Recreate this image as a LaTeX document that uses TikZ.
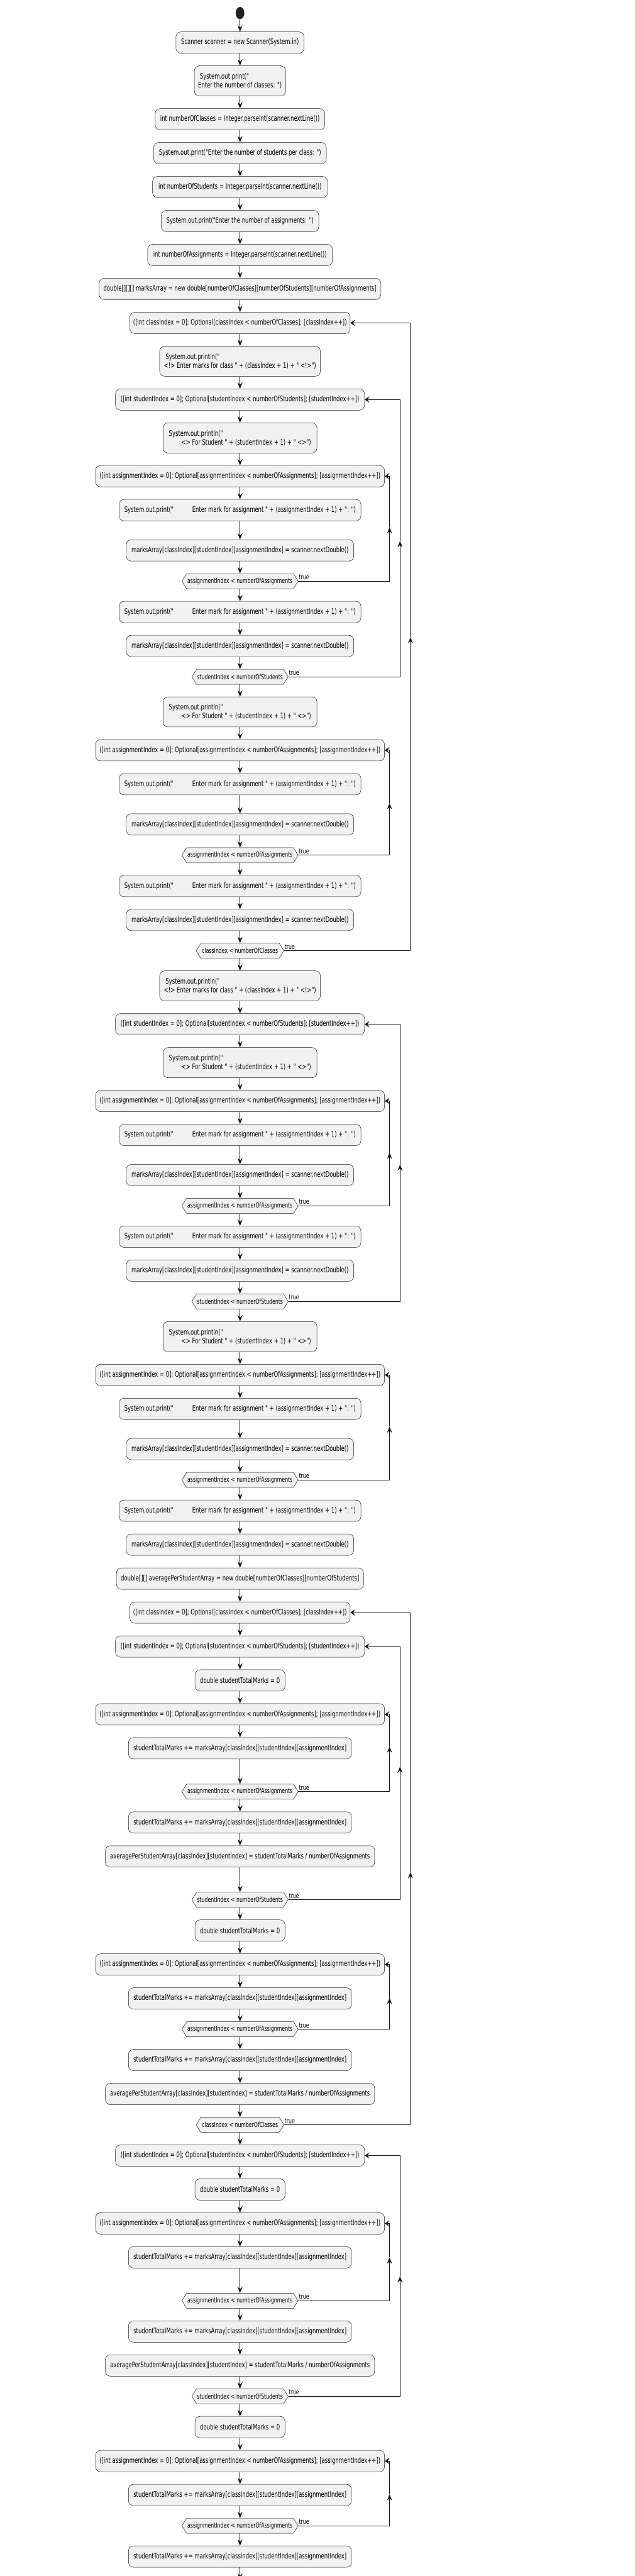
\documentclass[tikz,border=0pt]{standalone}
\usepackage{fontspec}
\newfontfamily\pumlfont{DejaVu Sans}[FakeStretch=0.707]
\usetikzlibrary{arrows.meta,shapes.geometric}
\definecolor{boxfill}{HTML}{F1F1F1}
\definecolor{boxline}{HTML}{181818}
\definecolor{lnk}{HTML}{181818}
\definecolor{dotc}{HTML}{222222}
\newcommand\hexshape[2]{\filldraw[hexsty] ({382-#2/2},#1) -- ({382-#2/2+7.5},{#1-12}) -- ({382+#2/2-7.5},{#1-12}) -- ({382+#2/2},#1) -- ({382+#2/2-7.5},{#1+12}) -- ({382-#2/2+7.5},{#1+12}) -- cycle;}
\newcommand\mkLC[2]{\node[actbox,minimum width=350.7pt] (#1) at (382,#2) {([int classIndex = 0]; Optional[classIndex < numberOfClasses]; [classIndex++])};}
\newcommand\mkPC[2]{\node[actbox2,minimum width=255.7pt] (#1) at (382,#2) {\hspace*{2.7pt}System.out.println("\\<!> Enter marks for class " + (classIndex + 1) + " <!>")};}
\newcommand\mkLS[2]{\node[actbox,minimum width=396.3pt] (#1) at (382,#2) {([int studentIndex = 0]; Optional[studentIndex < numberOfStudents]; [studentIndex++])};}
\newcommand\mkPS[2]{\node[actbox2,minimum width=245pt] (#1) at (382,#2) {System.out.println("\\\hspace*{20pt}<> For Student " + (studentIndex + 1) + " <>")};}
\newcommand\mkLA[2]{\node[actbox,minimum width=460pt] (#1) at (382,#2) {([int assignmentIndex = 0]; Optional[assignmentIndex < numberOfAssignments]; [assignmentIndex++])};}
\newcommand\mkPM[2]{\node[actbox,minimum width=385pt] (#1) at (382,#2) {System.out.print("\hspace*{30pt}Enter mark for assignment " + (assignmentIndex + 1) + ": ")};}
\newcommand\mkMK[2]{\node[actbox,minimum width=362pt] (#1) at (382,#2) {marksArray[classIndex][studentIndex][assignmentIndex] = scanner.nextDouble()};}
\newcommand\mkHA[2]{\hexshape{#2}{185}\node[hextxt,minimum width=185pt] (#1) at (382,#2) {assignmentIndex < numberOfAssignments};}
\newcommand\mkHS[2]{\hexshape{#2}{153.3}\node[hextxt,minimum width=153.3pt] (#1) at (382,#2) {studentIndex < numberOfStudents};}
\newcommand\mkHC[2]{\hexshape{#2}{139.7}\node[hextxt,minimum width=139.7pt] (#1) at (382,#2) {classIndex < numberOfClasses};}
\newcommand\mkDS[2]{\node[actbox,minimum width=143.3pt] (#1) at (382,#2) {double studentTotalMarks = 0};}
\newcommand\mkST[2]{\node[actbox,minimum width=355pt] (#1) at (382,#2) {studentTotalMarks += marksArray[classIndex][studentIndex][assignmentIndex]};}
\newcommand\mkAV[2]{\node[actbox,minimum width=428.7pt] (#1) at (382,#2) {averagePerStudentArray[classIndex][studentIndex] = studentTotalMarks / numberOfAssignments};}
\newcommand\loopback[4]{%
  \path (#1.east -| #3) coordinate (#1r);
  \path (#3) ++(0,#4) coordinate (#1m);
  \path (#2.east -| #3) coordinate (#1t);
  \node[truelbl] (#1lbl) at (#1.east) {true};
  \draw[flow,->] (#1.east) -- (#1r) -- (#1m);
  \draw[flow,-{Stealth[length=7.5pt,width=10pt,inset=3pt]}] (#1m) -- (#1t) -- (#2.east);
}
\begin{document}
\begin{tikzpicture}[x=1pt,y=-1pt,
  actbox/.style={draw=boxline,line width=0.5pt,fill=boxfill,rounded corners=8pt,inner xsep=2pt,inner ysep=0pt,minimum height=34pt,align=left,font=\pumlfont\fontsize{12}{14}\selectfont,text=black},
  actbox2/.style={actbox,minimum height=48pt},
  hexsty/.style={draw=boxline,line width=0.5pt,fill=boxfill},
  hextxt/.style={inner sep=0pt,minimum height=24pt,font=\pumlfont\fontsize{11}{13}\selectfont},
  flow/.style={draw=lnk,line width=1pt,>={Stealth[length=10pt,width=8pt,inset=3.5pt]}},
  truelbl/.style={anchor=base west,inner sep=0pt,xshift=1pt,yshift=2.5pt,font=\pumlfont\fontsize{11}{13}\selectfont},
  startdot/.style={ellipse,fill=dotc,draw=none,minimum width=13.8pt,minimum height=19.4pt,inner sep=0pt}]
\useasboundingbox (0,-0.73) rectangle (1009.68,4098);
\coordinate (xA) at (620,0);
\coordinate (xS) at (636.7,0);
\coordinate (xC) at (653.3,0);

\node[startdot] (st) at (382,20) {};
\node[actbox,minimum width=204pt] (n1) at (382,67) {Scanner scanner = new Scanner(System.in)};
\node[actbox2,minimum width=145.3pt] (n2) at (382,128) {\hspace*{2.7pt}System.out.print("\\Enter the number of classes: ")};
\node[actbox,minimum width=270pt] (n3) at (382,189) {int numberOfClasses = Integer.parseInt(scanner.nextLine())};
\node[actbox,minimum width=274.7pt] (n4) at (382,243) {System.out.print("Enter the number of students per class: ")};
\node[actbox,minimum width=278.3pt] (n5) at (382,297) {int numberOfStudents = Integer.parseInt(scanner.nextLine())};
\node[actbox,minimum width=250.7pt] (n6) at (382,351) {System.out.print("Enter the number of assignments: ")};
\node[actbox,minimum width=294pt] (n7) at (382,405) {int numberOfAssignments = Integer.parseInt(scanner.nextLine())};
\node[actbox,minimum width=448.3pt] (n8) at (382,459) {double[][][] marksArray = new double[numberOfClasses][numberOfStudents][numberOfAssignments]};

\mkLC{LC1}{513}
\mkPC{PC1}{574}
\mkLS{LS1}{635}
\mkPS{PS1}{696}
\mkLA{LA1}{757}
\mkPM{PM1}{811}
\mkMK{MK1}{875}
\mkHA{HA1}{924}
\mkPM{PM2}{973}
\mkMK{MK2}{1027}
\mkHS{HS1}{1076}
\mkPS{PS2}{1132}
\mkLA{LA2}{1193}
\mkPM{PM3}{1247}
\mkMK{MK3}{1311}
\mkHA{HA2}{1360}
\mkPM{PM4}{1409}
\mkMK{MK4}{1463}
\mkHC{HC1}{1512}
\mkPC{PC2}{1568}
\mkLS{LS2}{1629}
\mkPS{PS3}{1690}
\mkLA{LA3}{1751}
\mkPM{PM5}{1805}
\mkMK{MK5}{1869}
\mkHA{HA3}{1918}
\mkPM{PM6}{1967}
\mkMK{MK6}{2021}
\mkHS{HS2}{2070}
\mkPS{PS4}{2126}
\mkLA{LA4}{2187}
\mkPM{PM7}{2241}
\mkMK{MK7}{2305}
\mkHA{HA4}{2354}
\mkPM{PM8}{2403}
\mkMK{MK8}{2457}
\node[actbox,minimum width=393.3pt] (AD) at (382,2511) {double[][] averagePerStudentArray = new double[numberOfClasses][numberOfStudents]};
\mkLC{LC2}{2565}
\mkLS{LS3}{2619}
\mkDS{DS1}{2673}
\mkLA{LA5}{2727}
\mkST{ST1}{2781}
\mkHA{HA5}{2850}
\mkST{ST2}{2899}
\mkAV{AV1}{2953}
\mkHS{HS3}{3022}
\mkDS{DS2}{3071}
\mkLA{LA6}{3125}
\mkST{ST3}{3179}
\mkHA{HA6}{3228}
\mkST{ST4}{3277}
\mkAV{AV2}{3331}
\mkHC{HC2}{3380}
\mkLS{LS4}{3429}
\mkDS{DS3}{3483}
\mkLA{LA7}{3537}
\mkST{ST5}{3591}
\mkHA{HA7}{3660}
\mkST{ST6}{3709}
\mkAV{AV3}{3763}
\mkHS{HS4}{3812}
\mkDS{DS4}{3861}
\mkLA{LA8}{3915}
\mkST{ST7}{3969}
\mkHA{HA8}{4018}
\mkST{ST8}{4067}
\coordinate (endc) at (382,4104);

\foreach \a/\b in {st/n1,n1/n2,n2/n3,n3/n4,n4/n5,n5/n6,n6/n7,n7/n8,n8/LC1,
  LC1/PC1,PC1/LS1,LS1/PS1,PS1/LA1,LA1/PM1,PM1/MK1,MK1/HA1,HA1/PM2,PM2/MK2,MK2/HS1,
  HS1/PS2,PS2/LA2,LA2/PM3,PM3/MK3,MK3/HA2,HA2/PM4,PM4/MK4,MK4/HC1,
  HC1/PC2,PC2/LS2,LS2/PS3,PS3/LA3,LA3/PM5,PM5/MK5,MK5/HA3,HA3/PM6,PM6/MK6,MK6/HS2,
  HS2/PS4,PS4/LA4,LA4/PM7,PM7/MK7,MK7/HA4,HA4/PM8,PM8/MK8,MK8/AD,
  AD/LC2,LC2/LS3,LS3/DS1,DS1/LA5,LA5/ST1,ST1/HA5,HA5/ST2,ST2/AV1,AV1/HS3,
  HS3/DS2,DS2/LA6,LA6/ST3,ST3/HA6,HA6/ST4,ST4/AV2,AV2/HC2,
  HC2/LS4,LS4/DS3,DS3/LA7,LA7/ST5,ST5/HA7,HA7/ST6,ST6/AV3,AV3/HS4,
  HS4/DS4,DS4/LA8,LA8/ST7,ST7/HA8,HA8/ST8,ST8/endc}
  \draw[flow,->] (\a) -- (\b);

\loopback{HA1}{LA1}{xA}{838}
\loopback{HS1}{LS1}{xS}{860}
\loopback{HA2}{LA2}{xA}{1277}
\loopback{HC1}{LC1}{xC}{1013}
\loopback{HA3}{LA3}{xA}{1833}
\loopback{HS2}{LS2}{xS}{1852}
\loopback{HA4}{LA4}{xA}{2269}
\loopback{HA5}{LA5}{xA}{2778}
\loopback{HS3}{LS3}{xS}{2810}
\loopback{HA6}{LA6}{xA}{3178}
\loopback{HC2}{LC2}{xC}{2978}
\loopback{HA7}{LA7}{xA}{3591}
\loopback{HS4}{LS4}{xS}{3621}
\loopback{HA8}{LA8}{xA}{3968}
\end{tikzpicture}
\end{document}
